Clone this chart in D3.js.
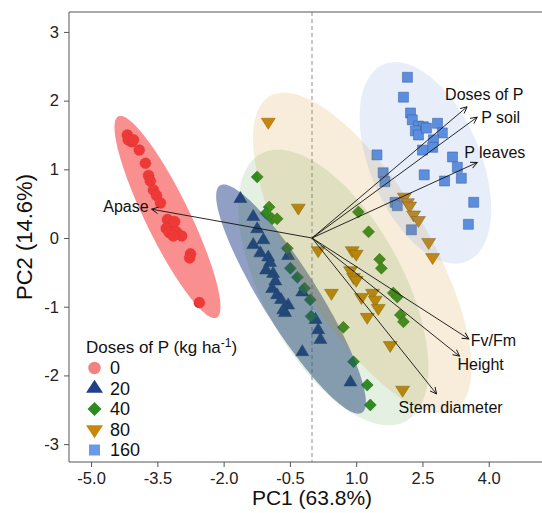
<!DOCTYPE html>
<html>
<head>
<meta charset="utf-8">
<script src="https://cdn.jsdelivr.net/npm/d3@7"></script>
<style>
  body { margin: 0; background: #fff; }
  svg { display: block; font-family: "Liberation Sans", Arial, Helvetica, sans-serif; }
</style>
</head>
<body>
<svg id="chart" width="542" height="513"></svg>
<script>
// ---- PCA scores by phosphorus dose (PC1, PC2) ----
const doses = ["0", "20", "40", "80", "160"];

const pc1Dose0 = [-4.18, -4.08, -4.16, -4.04, -3.91, -3.77, -3.70, -3.66, -3.59, -3.52, -3.43, -3.27, -3.18, -3.11, -3.30, -3.23, -3.07, -2.95, -3.14, -2.75, -2.77, -2.55];
const pc2Dose0 = [1.50, 1.40, 1.43, 1.43, 1.28, 1.09, 0.91, 0.83, 0.70, 0.62, 0.51, 0.27, 0.18, 0.24, 0.14, 0.08, 0.09, 0.03, 0.03, -0.23, -0.29, -0.94];

const pc1Dose20 = [-1.62, -1.33, -1.24, -1.10, -1.33, -1.17, -0.99, -0.95, -1.04, -0.88, -0.83, -0.90, -0.79, -0.54, -0.61, -0.54, -0.22, -0.22, 0.08, 0.14, 0.19, 0.87, -0.70, -0.65];
const pc2Dose20 = [0.57, 0.31, 0.13, -0.03, -0.10, -0.22, -0.28, -0.36, -0.47, -0.52, -0.63, -0.74, -0.83, -0.98, -1.09, -0.26, -0.79, -1.66, -1.19, -1.34, -1.48, -2.10, -0.90, -1.05];

const pc1Dose40 = [-1.24, -0.97, -1.04, -0.90, -0.79, -0.56, -0.49, -0.33, -0.17, -0.04, -0.02, 0.71, 0.94, 1.25, 1.32, 1.05, 1.28, 1.53, 1.57, 1.84, 1.93, 2.00, 2.07];
const pc2Dose40 = [0.89, 0.45, 0.36, 0.28, 0.28, -0.15, -0.44, -0.57, -0.73, -0.90, -1.14, -1.30, -1.80, -2.14, -2.43, 0.38, 0.09, -0.31, -0.44, -0.80, -0.86, -1.12, -1.22];

const pc1Dose80 = [-0.99, -0.31, 0.14, 0.91, 1.00, 0.87, 0.94, 1.00, 0.44, 1.12, 1.37, 1.43, 1.50, 1.25, 1.77, 2.05, 2.09, 2.16, 2.21, 2.30, 2.41, 2.64, 2.73];
const pc2Dose80 = [1.69, 0.44, -0.18, -0.18, -0.23, -0.47, -0.57, -0.61, -0.80, -0.86, -0.80, -0.90, -1.02, -1.15, -1.56, -2.21, 0.60, 0.52, 0.47, 0.34, 0.26, -0.06, -0.28];

const pc1Dose160 = [2.16, 2.07, 2.23, 2.27, 2.41, 2.52, 2.34, 2.41, 2.84, 2.95, 2.75, 2.73, 2.50, 1.47, 3.18, 3.29, 3.38, 2.54, 3.00, 1.61, 1.65, 1.88, 1.93, 3.66, 3.54, 2.25, 2.59];
const pc2Dose160 = [2.34, 2.05, 1.82, 1.72, 1.63, 1.62, 1.56, 1.50, 1.67, 1.53, 1.43, 1.32, 1.28, 1.21, 1.18, 1.03, 0.87, 0.92, 0.83, 0.95, 0.82, 0.52, 0.47, 0.52, 0.20, 0.12, 1.60];

// ---- Variable loadings (arrow tips, PC units) ----
const loadingNames = ["Apase", "Doses of P", "P soil", "P leaves", "Fv/Fm", "Height", "Stem diameter"];
const loadingPC1 = [-3.63, 3.51, 3.74, 3.74, 3.55, 3.34, 2.82];
const loadingPC2 = [0.42, 1.91, 1.76, 1.10, -1.47, -1.72, -2.27];

// ---- Group ellipses: centre and conjugate semi-axis vectors (PC units) ----
const ellipseCX = [-3.271, -0.475, 0.483, 1.137, 2.567];
const ellipseCY = [0.306, -0.888, -0.720, -0.218, 1.094];
const ellipseMajorX = [1.112, 1.607, 1.639, 2.098, 0.947];
const ellipseMajorY = [-1.465, -1.654, -1.947, -2.280, -1.433];
const ellipseMinorX = [0.448, 0.538, 1.395, 1.307, 1.148];
const ellipseMinorY = [0.140, 0.216, 0.485, 0.496, 0.313];

// ---- Axis ticks ----
const xTicks = [-5.0, -3.5, -2.0, -0.5, 1.0, 2.5, 4.0];
const yTicks = [3, 2, 1, 0, -1, -2, -3];

const xTitle = "PC1 (63.8%)";
const yTitle = "PC2 (14.6%)";
const legendTitle = "Doses of P (kg ha";

// ---------------------------------------------------------------
const pc1 = [pc1Dose0, pc1Dose20, pc1Dose40, pc1Dose80, pc1Dose160];
const pc2 = [pc2Dose0, pc2Dose20, pc2Dose40, pc2Dose80, pc2Dose160];

const style = [
  { shape: "circle",  fill: "#e8302e", stroke: "#8e1b1b", legendFill: "#f08282", ellFill: "#f4403e", ellOp: 0.58, w: 11, h: 11, lw: 12.5, lh: 12.5 },
  { shape: "triUp",   fill: "#1f3f86", stroke: "#14295a", legendFill: "#22408a", ellFill: "#23408a", ellOp: 0.5, w: 13, h: 11, lw: 17, lh: 13 },
  { shape: "diamond", fill: "#2e8b22", stroke: "#1d5c16", legendFill: "#2e8b22", ellFill: "#2e8b22", ellOp: 0.13, w: 12, h: 12, lw: 14, lh: 14 },
  { shape: "triDown", fill: "#c8860a", stroke: "#7d5406", legendFill: "#c8860a", ellFill: "#c8860a", ellOp: 0.15, w: 14, h: 11, lw: 17, lh: 13 },
  { shape: "square",  fill: "#5b8fe0", stroke: "#2f4f8c", legendFill: "#6a9ae6", ellFill: "#5b8fe0", ellOp: 0.15, w: 10, h: 10, lw: 11, lh: 11 }
];

function shapePath(kind, w, h) {
  switch (kind) {
    case "circle": {
      const r = w / 2;
      return `M${r},0A${r},${r} 0 1,1 ${-r},0A${r},${r} 0 1,1 ${r},0Z`;
    }
    case "triUp":   return `M0,${-h * 2 / 3}L${w / 2},${h / 3}L${-w / 2},${h / 3}Z`;
    case "triDown": return `M0,${h * 2 / 3}L${w / 2},${-h / 3}L${-w / 2},${-h / 3}Z`;
    case "diamond": return `M0,${-h / 2}L${w / 2},0L0,${h / 2}L${-w / 2},0Z`;
    case "square":  return `M${-w / 2},${-h / 2}h${w}v${h}h${-w}Z`;
  }
}

const svg = d3.select("#chart");
const margin = { left: 69, top: 12, bottom: 462, right: 555 };

const x = d3.scaleLinear().domain([-5.5, 5.5]).range([margin.left, margin.right]);
const y = d3.scaleLinear().domain([-3.26, 3.29]).range([margin.bottom, margin.top]);

svg.append("defs").append("clipPath").attr("id", "panel")
  .append("rect")
  .attr("x", margin.left).attr("y", margin.top)
  .attr("width", margin.right - margin.left).attr("height", margin.bottom - margin.top);

const plot = svg.append("g").attr("clip-path", "url(#panel)");

// reference line at PC1 = 0
plot.append("line")
  .attr("x1", x(0)).attr("x2", x(0))
  .attr("y1", margin.top).attr("y2", margin.bottom)
  .attr("stroke", "#9a9a9a").attr("stroke-width", 1.1)
  .attr("stroke-dasharray", "4,3");

// score points
doses.forEach((d, g) => {
  const s = style[g];
  const pts = pc1[g].map((v, i) => [v, pc2[g][i]]);
  plot.append("g").selectAll("path").data(pts).join("path")
    .attr("transform", p => `translate(${x(p[0])},${y(p[1])})`)
    .attr("d", shapePath(s.shape, s.w, s.h))
    .attr("fill", s.fill)
    .attr("stroke", s.stroke)
    .attr("stroke-width", 0.8)
    .attr("stroke-opacity", 0.6)
    .attr("stroke-dasharray", s.shape === "circle" ? "1.5,1" : null);
});

// group ellipses, translucent over the points
const ellLine = d3.line().x(p => x(p[0])).y(p => y(p[1])).curve(d3.curveLinearClosed);
doses.forEach((d, g) => {
  const s = style[g];
  const ring = d3.range(0, 2 * Math.PI, Math.PI / 90).map(t => [
    ellipseCX[g] + Math.cos(t) * ellipseMajorX[g] + Math.sin(t) * ellipseMinorX[g],
    ellipseCY[g] + Math.cos(t) * ellipseMajorY[g] + Math.sin(t) * ellipseMinorY[g]
  ]);
  plot.append("path")
    .attr("d", ellLine(ring))
    .attr("fill", s.ellFill)
    .attr("fill-opacity", s.ellOp)
    .attr("stroke", "none");
});

// loading arrows
const defs = svg.select("defs");
defs.append("marker")
  .attr("id", "head").attr("markerUnits", "userSpaceOnUse")
  .attr("viewBox", "-8 -5 10 10").attr("refX", 0).attr("refY", 0)
  .attr("markerWidth", 10).attr("markerHeight", 10).attr("orient", "auto")
  .append("path").attr("d", "M-6.5,-3.2L0,0L-6.5,3.2")
  .attr("fill", "none").attr("stroke", "#111").attr("stroke-width", 0.9);

const arrows = svg.append("g");
loadingNames.forEach((name, i) => {
  arrows.append("line")
    .attr("x1", x(0)).attr("y1", y(0))
    .attr("x2", x(loadingPC1[i])).attr("y2", y(loadingPC2[i]))
    .attr("stroke", "#111").attr("stroke-width", 0.9)
    .attr("marker-end", "url(#head)");
});

// label placement around each arrow tip (pixels)
const labelPlace = {
  "Apase":         { anchor: "end",   dx: -3,  dy: 3 },
  "Doses of P":    { anchor: "start", dx: -22, dy: -7 },
  "P soil":        { anchor: "start", dx: 4,   dy: 6 },
  "P leaves":      { anchor: "start", dx: -13, dy: -4 },
  "Fv/Fm":         { anchor: "start", dx: 2,   dy: 7 },
  "Height":        { anchor: "start", dx: -2,  dy: 14 },
  "Stem diameter": { anchor: "start", dx: -38, dy: 19 }
};
loadingNames.forEach((name, i) => {
  const p = labelPlace[name];
  arrows.append("text")
    .attr("x", x(loadingPC1[i]) + p.dx)
    .attr("y", y(loadingPC2[i]) + p.dy)
    .attr("text-anchor", p.anchor)
    .attr("font-size", 16)
    .attr("fill", "#111")
    .text(name);
});

// panel frame (right side runs past the canvas)
svg.append("path")
  .attr("d", `M${margin.right},${margin.top}H${margin.left}V${margin.bottom}H${margin.right}`)
  .attr("fill", "none").attr("stroke", "#555").attr("stroke-width", 1);

// axes
const xAxis = svg.append("g")
  .attr("transform", `translate(0,${margin.bottom})`)
  .call(d3.axisBottom(x).tickValues(xTicks).tickFormat(d => d.toFixed(1)).tickSize(5).tickPadding(5));
const yAxis = svg.append("g")
  .attr("transform", `translate(${margin.left},0)`)
  .call(d3.axisLeft(y).tickValues(yTicks).tickFormat(d => String(d)).tickSize(5).tickPadding(5));
[xAxis, yAxis].forEach(a => {
  a.select(".domain").remove();
  a.selectAll(".tick line").attr("stroke", "#555");
  a.selectAll(".tick text").attr("font-size", 16.5).attr("fill", "#222")
    .attr("font-family", "\"Liberation Sans\", Arial, sans-serif");
});

// axis titles
svg.append("text")
  .attr("x", (margin.left + margin.right) / 2).attr("y", 505)
  .attr("text-anchor", "middle").attr("font-size", 21).attr("fill", "#111")
  .text(xTitle);
svg.append("text")
  .attr("transform", `translate(32,${(margin.top + margin.bottom) / 2}) rotate(-90)`)
  .attr("text-anchor", "middle").attr("font-size", 22).attr("fill", "#111")
  .text(yTitle);

// legend
const legend = svg.append("g");
const lt = legend.append("text").attr("x", 86).attr("y", 353).attr("font-size", 17).attr("fill", "#111");
lt.append("tspan").text(legendTitle);
lt.append("tspan").attr("font-size", 12).attr("dy", -6).text("-1");
lt.append("tspan").attr("dy", 6).text(")");

doses.forEach((d, g) => {
  const s = style[g];
  const cy = 368 + g * 20.5;
  legend.append("path")
    .attr("transform", `translate(94.5,${cy})`)
    .attr("d", shapePath(s.shape, s.lw, s.lh))
    .attr("fill", s.legendFill);
  legend.append("text")
    .attr("x", 110).attr("y", cy).attr("dy", "0.36em")
    .attr("font-size", 18).attr("fill", "#111")
    .text(d);
});
</script>
</body>
</html>
